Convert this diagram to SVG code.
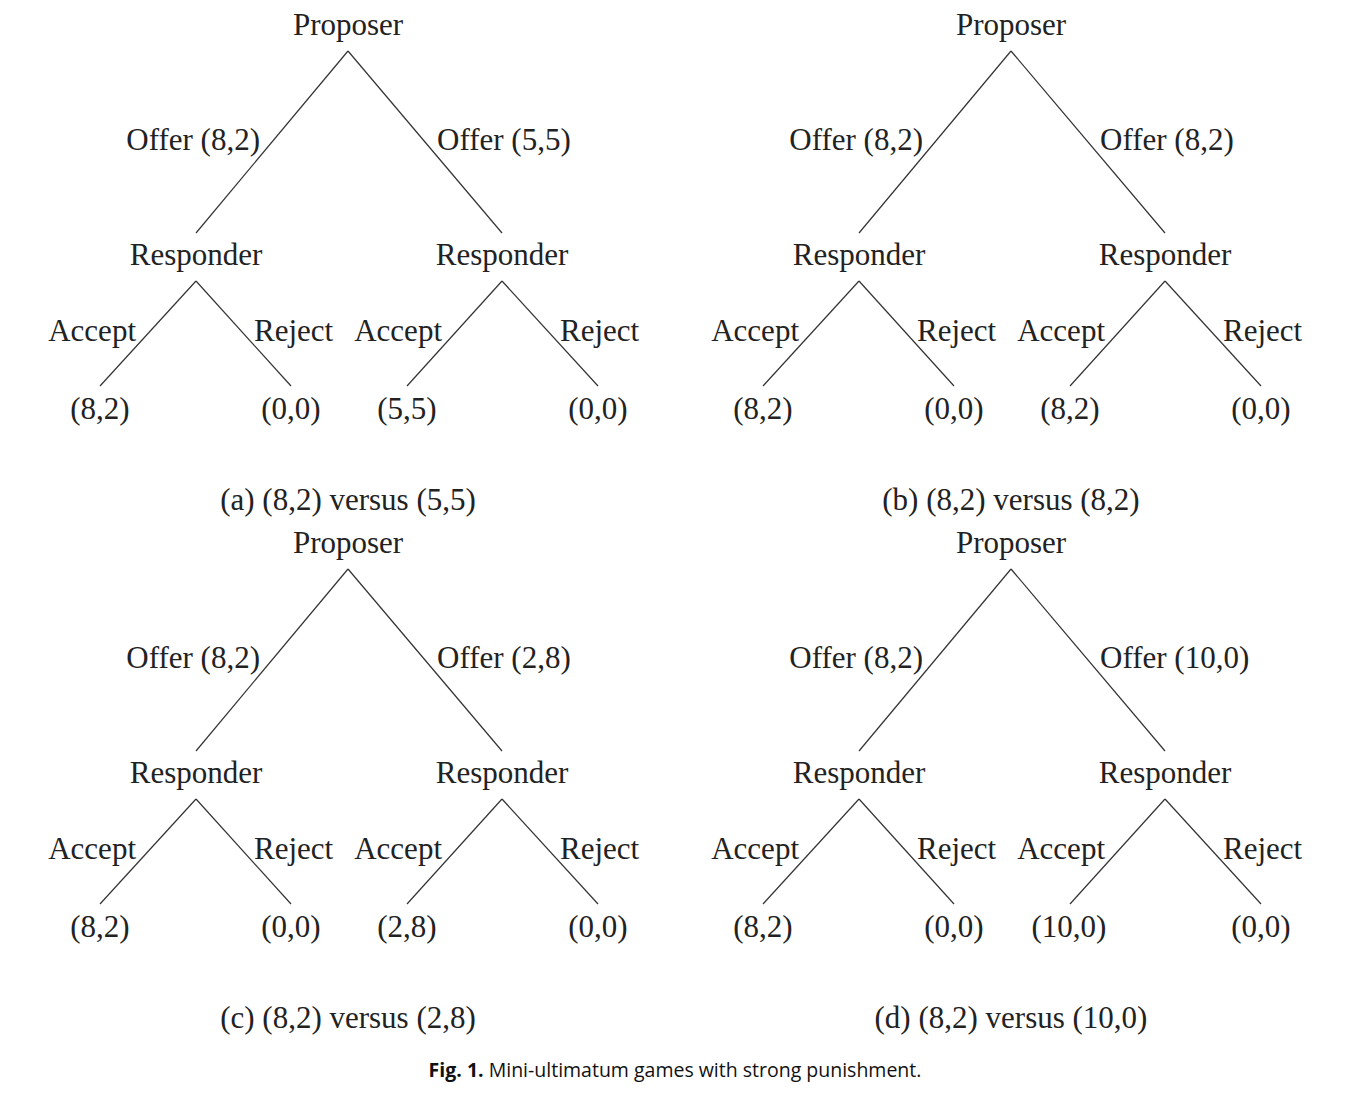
<svg xmlns="http://www.w3.org/2000/svg" width="1346" height="1106" viewBox="0 0 1346 1106">
<style>
text{font-family:"Liberation Serif","Times New Roman",serif;font-size:31px;fill:#222}
.m{text-anchor:middle}
.e{text-anchor:end}
.edge{stroke:#333;stroke-width:1.2;fill:none}
.fig{font-family:"Open Sans","Noto Sans",sans-serif;font-size:19.5px;fill:#111}
</style>
<rect width="1346" height="1106" fill="#fff"/>
<defs>
<g id="edges">
<line class="edge" x1="348" y1="51" x2="196" y2="233"/>
<line class="edge" x1="348" y1="51" x2="502" y2="233"/>
<line class="edge" x1="196" y1="281" x2="100" y2="386"/>
<line class="edge" x1="196" y1="281" x2="291" y2="386"/>
<line class="edge" x1="502" y1="281" x2="407" y2="386"/>
<line class="edge" x1="502" y1="281" x2="598" y2="386"/>
</g>
</defs>
<g id="connectors">
<use href="#edges"/>
<use href="#edges" transform="translate(663,0)"/>
<use href="#edges" transform="translate(0,518)"/>
<use href="#edges" transform="translate(663,518)"/>
</g>
<g id="tree-a">
<g id="a-proposer"><text class="m" x="348" y="35">Proposer</text></g>
<g id="a-resp1"><text class="m" x="196" y="265">Responder</text></g>
<g id="a-resp2"><text class="m" x="502" y="265">Responder</text></g>
<text class="e" x="260" y="150">Offer (8,2)</text>
<text x="437" y="150">Offer (5,5)</text>
<text class="e" x="136" y="341">Accept</text>
<text x="254" y="341">Reject</text>
<text class="e" x="442" y="341">Accept</text>
<text x="560" y="341">Reject</text>
<g id="a-l1"><text class="m" x="100" y="419">(8,2)</text></g>
<g id="a-l2"><text class="m" x="291" y="419">(0,0)</text></g>
<g id="a-l3"><text class="m" x="407" y="419">(5,5)</text></g>
<g id="a-l4"><text class="m" x="598" y="419">(0,0)</text></g>
<text class="m" x="348" y="510">(a) (8,2) versus (5,5)</text>
</g>
<g id="tree-b" transform="translate(663,0)">
<g id="b-proposer"><text class="m" x="348" y="35">Proposer</text></g>
<g id="b-resp1"><text class="m" x="196" y="265">Responder</text></g>
<g id="b-resp2"><text class="m" x="502" y="265">Responder</text></g>
<text class="e" x="260" y="150">Offer (8,2)</text>
<text x="437" y="150">Offer (8,2)</text>
<text class="e" x="136" y="341">Accept</text>
<text x="254" y="341">Reject</text>
<text class="e" x="442" y="341">Accept</text>
<text x="560" y="341">Reject</text>
<g id="b-l1"><text class="m" x="100" y="419">(8,2)</text></g>
<g id="b-l2"><text class="m" x="291" y="419">(0,0)</text></g>
<g id="b-l3"><text class="m" x="407" y="419">(8,2)</text></g>
<g id="b-l4"><text class="m" x="598" y="419">(0,0)</text></g>
<text class="m" x="348" y="510">(b) (8,2) versus (8,2)</text>
</g>
<g id="tree-c" transform="translate(0,518)">
<g id="c-proposer"><text class="m" x="348" y="35">Proposer</text></g>
<g id="c-resp1"><text class="m" x="196" y="265">Responder</text></g>
<g id="c-resp2"><text class="m" x="502" y="265">Responder</text></g>
<text class="e" x="260" y="150">Offer (8,2)</text>
<text x="437" y="150">Offer (2,8)</text>
<text class="e" x="136" y="341">Accept</text>
<text x="254" y="341">Reject</text>
<text class="e" x="442" y="341">Accept</text>
<text x="560" y="341">Reject</text>
<g id="c-l1"><text class="m" x="100" y="419">(8,2)</text></g>
<g id="c-l2"><text class="m" x="291" y="419">(0,0)</text></g>
<g id="c-l3"><text class="m" x="407" y="419">(2,8)</text></g>
<g id="c-l4"><text class="m" x="598" y="419">(0,0)</text></g>
<text class="m" x="348" y="510">(c) (8,2) versus (2,8)</text>
</g>
<g id="tree-d" transform="translate(663,518)">
<g id="d-proposer"><text class="m" x="348" y="35">Proposer</text></g>
<g id="d-resp1"><text class="m" x="196" y="265">Responder</text></g>
<g id="d-resp2"><text class="m" x="502" y="265">Responder</text></g>
<text class="e" x="260" y="150">Offer (8,2)</text>
<text x="437" y="150">Offer (10,0)</text>
<text class="e" x="136" y="341">Accept</text>
<text x="254" y="341">Reject</text>
<text class="e" x="442" y="341">Accept</text>
<text x="560" y="341">Reject</text>
<g id="d-l1"><text class="m" x="100" y="419">(8,2)</text></g>
<g id="d-l2"><text class="m" x="291" y="419">(0,0)</text></g>
<g id="d-l3"><text class="m" x="406" y="419">(10,0)</text></g>
<g id="d-l4"><text class="m" x="598" y="419">(0,0)</text></g>
<text class="m" x="348" y="510">(d) (8,2) versus (10,0)</text>
</g>
<g id="figcaption">
<text class="fig" x="675" y="1077" text-anchor="middle"><tspan font-weight="bold">Fig. 1.</tspan>  Mini-ultimatum games with strong punishment.</text>
</g>
</svg>
